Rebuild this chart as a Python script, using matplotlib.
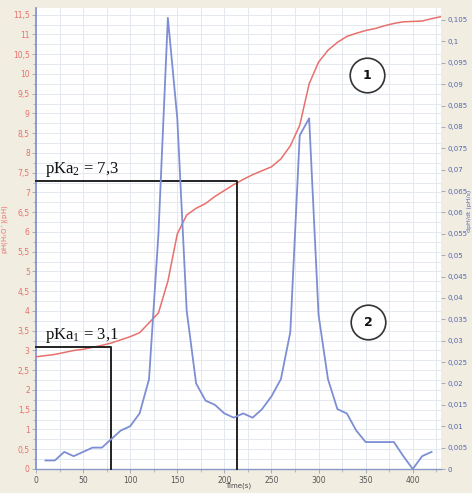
import matplotlib
matplotlib.use("Agg")
import matplotlib.pyplot as plt
from matplotlib.ticker import MultipleLocator, FuncFormatter

# ---- data ----
time_ph = [0, 10, 20, 30, 40, 50, 60, 70, 80, 90, 100, 110, 120, 130, 140, 150, 160,
           170, 180, 190, 200, 210, 220, 230, 240, 250, 260, 270, 280, 290, 300, 310,
           320, 330, 340, 350, 360, 370, 380, 390, 400, 410, 420, 430]
ph = [2.84, 2.87, 2.9, 2.95, 3.0, 3.03, 3.08, 3.13, 3.19, 3.27, 3.35, 3.45, 3.7, 3.95,
      4.75, 5.95, 6.43, 6.6, 6.72, 6.9, 7.05, 7.2, 7.33, 7.45, 7.55, 7.65, 7.85, 8.18,
      8.7, 9.75, 10.3, 10.6, 10.8, 10.95, 11.03, 11.1, 11.15, 11.22, 11.28, 11.32,
      11.33, 11.34, 11.4, 11.45]

time_d = [10, 20, 30, 40, 50, 60, 70, 80, 90, 100, 110, 120, 130, 140, 150, 160, 170,
          180, 190, 200, 210, 220, 230, 240, 250, 260, 270, 280, 290, 300, 310, 320,
          330, 340, 350, 360, 370, 380, 390, 400, 410, 420]
dph = [0.002, 0.002, 0.004, 0.003, 0.004, 0.005, 0.005, 0.007, 0.009, 0.010, 0.013,
       0.021, 0.055, 0.1055, 0.082, 0.037, 0.020, 0.016, 0.015, 0.013, 0.012, 0.013,
       0.012, 0.014, 0.017, 0.021, 0.032, 0.078, 0.082, 0.036, 0.021, 0.014, 0.013,
       0.009, 0.0063, 0.0063, 0.0063, 0.0063, 0.003, 0.0, 0.003, 0.004]

pka_times = [80, 213]
pka_values = [3.1, 7.3]
pka_labels = ["pKa$_\\mathrm{1}$ = 3,1", "pKa$_\\mathrm{2}$ = 7,3"]
circle_labels = ["1", "2"]
circle_pos = [(351, 9.97), (353, 3.72)]

# ---- style ----
plt.rcParams['mathtext.fontset'] = 'custom'
plt.rcParams['mathtext.rm'] = 'Liberation Serif'
plt.rcParams['mathtext.it'] = 'Liberation Serif:italic'

RED = "#e8706c"
BLUE = "#7d8ed4"
BG = "#f1ede1"

fig = plt.figure(figsize=(4.72, 4.93), dpi=100, facecolor=BG)
ax = fig.add_axes([36/472, 1-469/493, (441-36)/472, (469-8)/493])
ax.set_facecolor("white")
ax2 = ax.twinx()

comma = lambda: FuncFormatter(lambda v, p: ("%g" % round(v, 4)).replace(".", ","))

ax.set_xlim(0, 430)
ax.set_ylim(0, 11.67)
ax2.set_ylim(0, 0.1078)

ax.xaxis.set_major_locator(MultipleLocator(50))
ax.xaxis.set_minor_locator(MultipleLocator(25))
ax.yaxis.set_major_locator(MultipleLocator(0.5))
ax.yaxis.set_minor_locator(MultipleLocator(0.25))
ax2.yaxis.set_major_locator(MultipleLocator(0.005))
ax.yaxis.set_major_formatter(comma())
ax2.yaxis.set_major_formatter(comma())

ax.grid(True, which='both', color="#e4e8ef", lw=0.7)
ax.set_axisbelow(True)

ax.tick_params(axis='y', which='major', labelsize=5.5, labelcolor=RED, color="#9aa0b0", length=3, width=0.6, pad=1.5)
ax.tick_params(axis='y', which='minor', color="#9aa0b0", length=2, width=0.5)
ax.tick_params(axis='x', which='major', labelsize=5.5, labelcolor="#555555", color="#9aa0b0", length=3, width=0.6, pad=2)
ax.tick_params(axis='x', which='minor', color="#9aa0b0", length=2, width=0.5)
ax2.tick_params(axis='y', labelsize=5, labelcolor="#5566b0", color="#9aa0b0", length=3, width=0.6, pad=1.5)

for a in (ax, ax2):
    a.spines['top'].set_visible(False)
    a.spines['right'].set_visible(False)
ax.spines['left'].set_color(BLUE)
ax.spines['left'].set_linewidth(1.2)
ax.spines['bottom'].set_color("#8a98c8")
ax.spines['bottom'].set_linewidth(1.0)
ax2.spines['left'].set_visible(False)
ax2.spines['bottom'].set_visible(False)

ax.set_xlabel("Time(s)", fontsize=5, color="#444444", labelpad=0)
ax.xaxis.set_label_coords(0.5, -0.030)
ax.set_ylabel("pH(H$_3$O$^+$)(pH)", fontsize=5, color=RED)
ax.yaxis.set_label_coords(-0.065, 0.52)
ax2.set_ylabel("dpH/dt (pH/s)", fontsize=4.5, color="#5566b0", va='center')
ax2.yaxis.set_label_coords(1.071, 0.56)

ax.plot(time_ph, ph, color=RED, lw=1.1, zorder=3)
ax2.plot(time_d, dph, color=BLUE, lw=1.3, zorder=3)

# pKa construction lines
for t, v, lab in zip(pka_times, pka_values, pka_labels):
    ax.plot([0, t, t], [v, v, 0], color="#222222", lw=1.4, zorder=4, clip_on=False)
    ax.text(9.5, v + 0.2, lab, fontsize=12, family="Liberation Serif", color="#111111",
            ha='left', va='baseline', zorder=5)

for (cx, cy), lab in zip(circle_pos, circle_labels):
    ax.scatter([cx], [cy], s=620, facecolors='white', edgecolors="#333333", linewidths=1.2, zorder=5)
    ax.text(cx, cy, lab, fontsize=9, fontweight='bold', ha='center', va='center', color="#111111", zorder=6)

fig.savefig("out.png", dpi=100, facecolor=BG)
